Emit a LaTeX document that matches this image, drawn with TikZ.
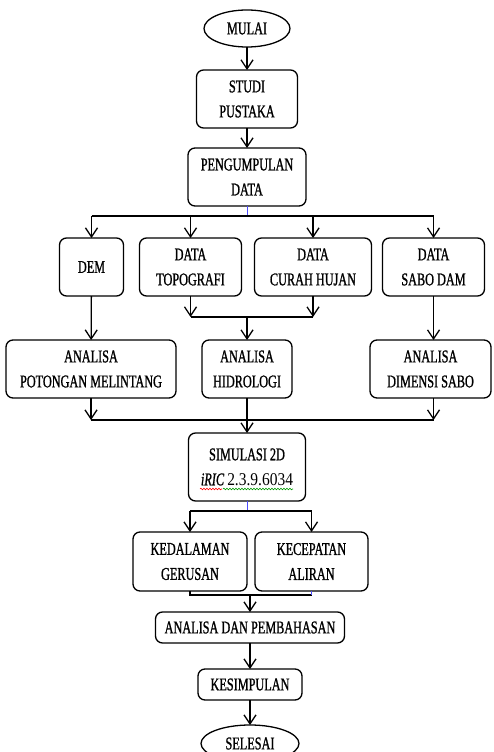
\documentclass[tikz,border=0pt]{standalone}
\usepackage{fontspec}
\setmainfont{Liberation Serif}[FakeStretch=0.68, FakeBold=1]
\newfontfamily\numserif{Liberation Serif}[FakeStretch=0.86]
\usetikzlibrary{shapes.geometric, arrows.meta, positioning, calc, decorations.pathmorphing}

\begin{document}
\begin{tikzpicture}[
  node distance=20pt and 10pt,
  box/.style={rectangle, rounded corners=7pt, draw, line width=1.3pt, outer sep=0pt, font=\fontsize{18}{25}\selectfont, minimum height=58pt, align=center, inner sep=2pt},
  term/.style={ellipse, draw, line width=1.3pt, outer sep=0pt, font=\fontsize{18}{25}\selectfont, inner sep=0pt},
  arrow/.style={-{Straight Barb[length=9pt,width=12pt]}, line width=1.3pt},
  line/.style={line width=1.3pt},
  stub/.style={blue!70, line width=0.6pt},
  squiggle/.style={decorate, decoration={snake, amplitude=0.8pt, segment length=3pt}, line width=0.6pt}
]
  \useasboundingbox (0,0) rectangle (493pt,-752pt);

  % main column
  \node[term, minimum width=86pt, minimum height=37pt] (mulai) at (247pt,-28.5pt) {MULAI};
  \node[box, minimum width=101pt, below=23pt of mulai] (studi) {STUDI\\PUSTAKA};
  \node[box, minimum width=118pt, below=20pt of studi] (kumpul) {PENGUMPULAN\\DATA};

  % data row
  \node[box, minimum width=117pt, below=32pt of kumpul, xshift=66pt] (curah) {DATA\\CURAH HUJAN};
  \node[box, minimum width=102pt, left=13pt of curah] (topo) {DATA\\TOPOGRAFI};
  \node[box, minimum width=64pt, left=16pt of topo] (dem) {DEM};
  \node[box, minimum width=102pt, right=11pt of curah] (sabo) {DATA\\SABO DAM};

  % analysis row
  \node[box, minimum width=90pt, below=134pt of kumpul] (hidro) {ANALISA\\HIDROLOGI};
  \node[box, minimum width=170pt, left=26pt of hidro] (potongan) {ANALISA\\POTONGAN MELINTANG};
  \node[box, minimum width=121pt, right=78pt of hidro] (dimensi) {ANALISA\\DIMENSI SABO};

  % simulation and results
  \node[box, minimum width=117pt, minimum height=68pt, below=35pt of hidro] (simulasi) {SIMULASI 2D\\\textit{iRIC} {\numserif 2.3.9.6034}};
  \node[box, minimum width=114pt, minimum height=59pt, below=31pt of simulasi, xshift=-57pt] (kedalaman) {KEDALAMAN\\GERUSAN};
  \node[box, minimum width=113pt, minimum height=59pt, right=8pt of kedalaman] (kecepatan) {KECEPATAN\\ALIRAN};
  \node[box, minimum width=189pt, minimum height=31pt, below=111pt of simulasi, xshift=3pt] (bahas) {ANALISA DAN PEMBAHASAN};
  \node[box, minimum width=104pt, minimum height=31pt, below=26pt of bahas] (simpul) {KESIMPULAN};
  \node[term, minimum width=98pt, minimum height=37pt, below=25pt of simpul] (selesai) {SELESAI};

  % branch points
  \coordinate (s1) at ($(kumpul.south)+(0,-10pt)$);
  \coordinate (m1) at ($(hidro.north)+(0,23pt)$);
  \coordinate (m2) at ($(simulasi.north)+(0,13pt)$);
  \coordinate (s2) at ($(simulasi.south)+(0,-10pt)$);
  \coordinate (m3) at ($(bahas.north)+(0,17pt)$);

  \draw[arrow] (mulai) -- (studi);
  \draw[arrow] (studi) -- (kumpul);

  \draw[stub] (kumpul.south) -- (s1);
  \draw[line] (dem.north |- s1) -- (sabo.north |- s1);
  \draw[arrow] (dem.north |- s1) -- (dem.north);
  \draw[arrow] (topo.north |- s1) -- (topo.north);
  \draw[arrow] (curah.north |- s1) -- (curah.north);
  \draw[arrow] (sabo.north |- s1) -- (sabo.north);

  \draw[arrow] (topo.south) -- (topo.south |- m1);
  \draw[arrow] (curah.south) -- (curah.south |- m1);
  \draw[line] (topo.south |- m1) -- (curah.south |- m1);
  \draw[arrow] (m1) -- (hidro);
  \draw[arrow] (dem) -- (potongan);
  \draw[arrow] (sabo.south) -- (sabo.south |- dimensi.north);

  \draw[arrow] (potongan.south) -- (potongan.south |- m2);
  \draw[arrow] (sabo.south |- dimensi.south) -- (sabo.south |- m2);
  \draw[line] (potongan.south |- m2) -- (sabo.south |- m2);
  \draw[arrow] (hidro) -- (simulasi);

  \draw[stub] (simulasi.south) -- (s2);
  \draw[line] (kedalaman.north |- s2) -- (kecepatan.north |- s2);
  \draw[arrow] (kedalaman.north |- s2) -- (kedalaman.north);
  \draw[arrow] (kecepatan.north |- s2) -- (kecepatan.north);

  \draw[line] (kedalaman.south) -- (kedalaman.south |- m3) -- (kecepatan.south |- m3);
  \draw[stub] (kecepatan.south) -- (kecepatan.south |- m3);
  \draw[arrow] (m3) -- (bahas);
  \draw[arrow] (bahas) -- (simpul);
  \draw[arrow] (simpul) -- (selesai);

  % spell check marks
  \draw[squiggle, red] ($(simulasi.south)+(-47pt,12pt)$) -- ++(22pt,0);
  \draw[squiggle, green!60!black] ($(simulasi.south)+(-24pt,12pt)$) -- ++(70pt,0);
\end{tikzpicture}
\end{document}
